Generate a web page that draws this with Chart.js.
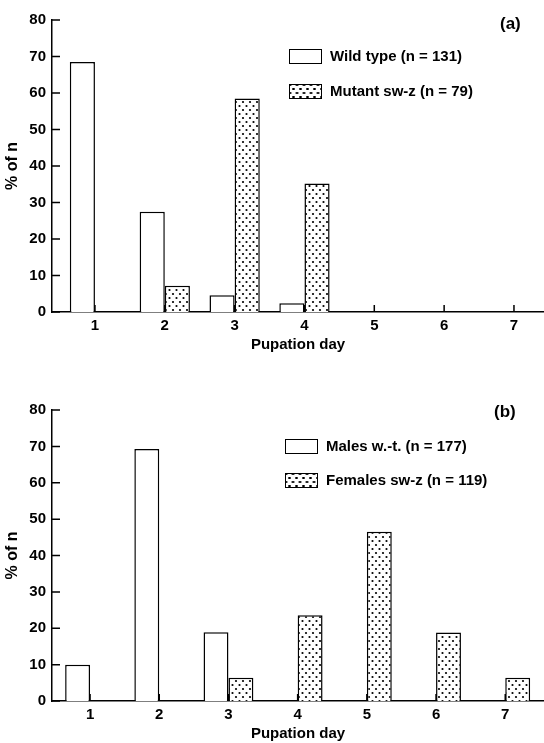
<!DOCTYPE html>
<html><head><meta charset="utf-8">
<script src="https://cdn.jsdelivr.net/npm/chart.js@4.4.1/dist/chart.umd.min.js"></script>
<style>
html,body{margin:0;padding:0;background:#fff;width:544px;height:743px;overflow:hidden;position:relative;font-family:"Liberation Sans",Arial,Helvetica,sans-serif;}
.wrap{position:absolute;left:0;width:544px;}
canvas{display:block;}
.lg{position:absolute;font-weight:bold;font-size:15px;line-height:16px;color:#000;display:flex;align-items:center;white-space:nowrap;height:16px;}
.sw{width:31px;height:13px;border:1.5px solid #000;margin-right:8px;background:#fff;box-sizing:content-box;flex:none;}
.dots{background-color:#fff;background-image:radial-gradient(circle,#000 1px,transparent 1.4px),radial-gradient(circle,#000 1px,transparent 1.4px);background-size:7px 8px;background-position:0 0,3.5px 4px;}
.tag{position:absolute;font-size:17px;font-weight:bold;line-height:20px;color:#000;}
</style>
</head>
<body>
<div class="wrap" style="top:0;height:355px;"><canvas id="cA" width="544" height="355"></canvas></div>
<div class="wrap" style="top:355px;height:388px;"><canvas id="cB" width="544" height="388"></canvas></div>
<div class="tag" style="left:500px;top:14px;">(a)</div>
<div class="tag" style="left:494px;top:402px;">(b)</div>
<div id="legA1" class="lg" style="left:289px;top:48px;"><span class="sw"></span><span class="t"></span></div>
<div id="legA2" class="lg" style="left:289px;top:83px;"><span class="sw dots"></span><span class="t"></span></div>
<div id="legB1" class="lg" style="left:285px;top:438px;"><span class="sw"></span><span class="t"></span></div>
<div id="legB2" class="lg" style="left:285px;top:472px;"><span class="sw dots"></span><span class="t"></span></div>
<script>
// ---- data ----
const days = ['1', '2', '3', '4', '5', '6', '7'];
const yTicks = [0, 10, 20, 30, 40, 50, 60, 70, 80];
const wildType = [68.5, 27.5, 4.6, 2.4, 0, 0, 0];
const mutantSwz = [0, 7.2, 58.5, 35.2, 0, 0, 0];
const malesWt = [10, 69.3, 18.9, 0, 0, 0, 0];
const femalesSwz = [0, 0, 6.4, 23.6, 46.5, 18.8, 6.4];
const labelsA = ['Wild type (n = 131)', 'Mutant sw-z (n = 79)'];
const labelsB = ['Males w.-t. (n = 177)', 'Females sw-z (n = 119)'];
const xTitle = 'Pupation day';
const yTitle = '% of n';

const FONT = '"Liberation Sans", Arial, Helvetica, sans-serif';

function makePattern(ctx) {
  const c = document.createElement('canvas');
  c.width = 7; c.height = 8;
  const g = c.getContext('2d');
  g.fillStyle = '#fff'; g.fillRect(0, 0, 7, 8);
  g.fillStyle = '#000';
  [[1.5, 2], [5, 6]].forEach(([x, y]) => { g.beginPath(); g.arc(x, y, 1.1, 0, Math.PI * 2); g.fill(); });
  return ctx.createPattern(c, 'repeat');
}

const inwardTicks = {
  id: 'inwardTicks',
  afterDatasetsDraw(chart) {
    const { ctx, chartArea: a, scales: { x, y } } = chart;
    ctx.save();
    ctx.strokeStyle = '#000';
    ctx.lineWidth = 1.5;
    ctx.beginPath();
    y.ticks.forEach(t => { const py = y.getPixelForValue(t.value); ctx.moveTo(a.left, py); ctx.lineTo(a.left + 8, py); });
    x.ticks.forEach(t => { const px = x.getPixelForValue(t.value); ctx.moveTo(px, a.bottom); ctx.lineTo(px, a.bottom - 7); });
    ctx.stroke();
    ctx.restore();
  }
};

function makeChart(id, s1, s2, labels, opt) {
  const canvas = document.getElementById(id);
  const ctx = canvas.getContext('2d');
  const pat = makePattern(ctx);
  return new Chart(ctx, {
    type: 'bar',
    data: {
      labels: days,
      datasets: [
        { label: labels[0], data: s1, backgroundColor: '#fff', borderColor: '#000', borderWidth: 1.5 },
        { label: labels[1], data: s2, backgroundColor: pat, borderColor: '#000', borderWidth: 1.5 }
      ]
    },
    options: {
      responsive: false,
      animation: false,
      devicePixelRatio: 1,
      layout: { padding: { top: opt.top, left: 0, right: 0, bottom: 0 } },
      plugins: { legend: { display: false }, tooltip: { enabled: false } },
      datasets: { bar: { categoryPercentage: 0.72, barPercentage: 1 } },
      scales: {
        x: {
          type: 'linear', min: opt.xmin, max: opt.xmax, offset: false,
          grid: { display: false, drawTicks: false },
          border: { display: true, color: '#000', width: 1.5 },
          ticks: { padding: 5, color: '#000', font: { family: FONT, size: 15, weight: 'bold' } },
          afterBuildTicks: s => { s.ticks = days.map(d => ({ value: +d })); },
          afterFit: s => { s.height = opt.xh; },
          title: { display: true, text: xTitle, color: '#000', font: { family: FONT, size: 15, weight: 'bold' }, padding: { top: 0, bottom: opt.tpb } }
        },
        y: {
          min: 0, max: 80,
          grid: { display: false, drawTicks: false },
          border: { display: true, color: '#000', width: 1.5 },
          ticks: { padding: 6, color: '#000', font: { family: FONT, size: 15, weight: 'bold' } },
          afterBuildTicks: s => { s.ticks = yTicks.map(v => ({ value: v })); },
          afterFit: s => { s.width = 52; },
          title: { display: true, text: yTitle, color: '#000', font: { family: FONT, size: 16, weight: 'bold' }, padding: { top: 3, bottom: 0 } }
        }
      }
    },
    plugins: [inwardTicks]
  });
}

makeChart('cA', wildType, mutantSwz, labelsA, { top: 20, xh: 43, tpb: 1, xmin: 0.385, xmax: 7.43 });
makeChart('cB', malesWt, femalesSwz, labelsB, { top: 55, xh: 42, tpb: 0, xmin: 0.45, xmax: 7.56 });

document.querySelector('#legA1 .t').textContent = labelsA[0];
document.querySelector('#legA2 .t').textContent = labelsA[1];
document.querySelector('#legB1 .t').textContent = labelsB[0];
document.querySelector('#legB2 .t').textContent = labelsB[1];
</script>
</body></html>
